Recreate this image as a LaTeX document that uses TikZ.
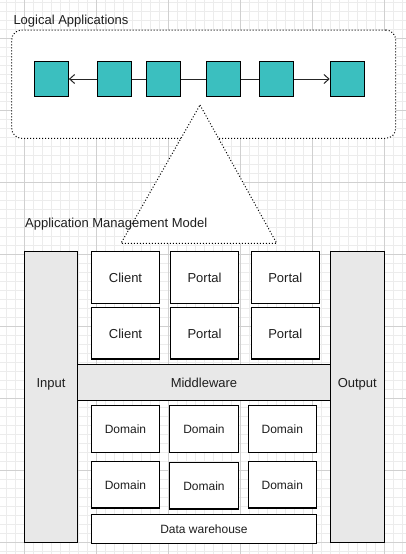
\documentclass[tikz,border=0pt]{standalone}
\usepackage{fontspec}
\setmainfont{Liberation Sans}
\usetikzlibrary{arrows.meta}
\definecolor{tealbox}{RGB}{59,191,191}
\definecolor{gfill}{RGB}{232,232,232}
\definecolor{minorg}{RGB}{236,236,236}
\definecolor{majorg}{RGB}{208,208,208}
\definecolor{txt}{RGB}{30,30,30}
\begin{document}
\begin{tikzpicture}[x=1pt,y=-1pt,
  sq/.style={draw=black, fill=tealbox, line width=1.2pt, minimum width=34pt, minimum height=35pt, inner sep=0pt},
  wbox/.style={draw=black, fill=white, line width=1.2pt, inner sep=0pt, text=txt, text height=9.4pt, text depth=0pt},
  gbox/.style={draw=black, fill=gfill, line width=1.2pt, inner sep=0pt},
  fbig/.style={font=\fontsize{13}{15}\selectfont},
  fsmall/.style={font=\fontsize{12}{14}\selectfont},
  lbl/.style={inner sep=0pt, text=txt, text height=9.4pt, text depth=0pt},
  dotline/.style={line width=1pt, dash pattern=on 1pt off 2pt},
  conn/.style={line width=1pt, draw=black!85}
]
\useasboundingbox (0,0) rectangle (406,554);
\fill[white] (0,0) rectangle (406,554);
% grid
\foreach \x in {6.7,15.7,...,406} \draw[minorg, line width=1pt] (\x,0) -- (\x,554);
\foreach \y in {2.3,11.3,...,554} \draw[minorg, line width=1pt] (0,\y) -- (406,\y);
\foreach \x in {24.7,96.7,...,406} \draw[majorg, line width=1pt] (\x,0) -- (\x,554);
\foreach \y in {38.3,110.3,...,554} \draw[majorg, line width=1pt] (0,\y) -- (406,\y);

% Logical applications container
\node[anchor=base west, inner sep=0pt, text=txt, fbig] (title1) at (13.3,24.3) {Logical Applications};
\node[draw=black, dotline, fill=white, rounded corners=10pt, minimum width=384pt, minimum height=108.3pt, inner sep=0pt] (la) at (203.7,84.15) {};

% triangle
\draw[dotline, fill=white] (200,105) -- (276.7,243.3) -- (121,243.3) -- cycle;

% squares
\node[sq] (s1) at (51.3,79) {};
\node[sq] (s2) at (114.3,79) {};
\node[sq] (s3) at (163.3,79) {};
\node[sq] (s4) at (223.5,79) {};
\node[sq] (s5) at (276.5,79) {};
\node[sq] (s6) at (347.3,79) {};
\draw[conn, -{Straight Barb[length=5pt,width=9pt]}] (s2) -- (s1);
\draw[conn] (s2) -- (s3);
\draw[conn] (s3) -- (s4);
\draw[conn] (s4) -- (s5);
\draw[conn, -{Straight Barb[length=5pt,width=9pt]}] (s5) -- (s6);

\node[anchor=base west, inner sep=0pt, text=txt, fbig] (title2) at (25,227.3) {Application Management Model};

% middleware and side columns
\node[gbox, minimum width=252.6pt, minimum height=36pt] (mw) at (204,382.3) {};
\node[gbox, minimum width=53.4pt, minimum height=290.6pt] (in) at (51,397) {};
\node[gbox, minimum width=54pt, minimum height=290.6pt] (out) at (357.3,397) {};
\node[lbl, fbig] (mwl) at (mw.center) {Middleware};
\node[lbl, fbig] (inl) at (in.center |- mw.center) {Input};
\node[lbl, fbig] (outl) at (out.center |- mw.center) {Output};

% upper boxes
\node[wbox, fbig, minimum width=67.6pt, minimum height=51.6pt] (c1) at (125.5,277.5) {Client};
\node[wbox, fbig, minimum width=68.4pt, minimum height=51.6pt] (p1) at (204.5,277.5) {Portal};
\node[wbox, fbig, minimum width=68pt, minimum height=51.6pt] (p2) at (285.3,277.5) {Portal};
\node[wbox, fbig, minimum width=67.6pt, minimum height=51.3pt] (c2) at (125.5,333.3) {Client};
\node[wbox, fbig, minimum width=68.4pt, minimum height=51.3pt] (p3) at (204.5,333.3) {Portal};
\node[wbox, fbig, minimum width=68pt, minimum height=51.3pt] (p4) at (285.3,333.3) {Portal};

% lower boxes
\node[wbox, fsmall, minimum width=67.6pt, minimum height=47pt] (d1) at (125.5,428.8) {Domain};
\node[wbox, fsmall, minimum width=69.4pt, minimum height=47pt] (d2) at (204,428.8) {Domain};
\node[wbox, fsmall, minimum width=68pt, minimum height=47pt] (d3) at (282.3,428.8) {Domain};
\node[wbox, fsmall, minimum width=67.6pt, minimum height=46.7pt] (d4) at (125.5,484.7) {Domain};
\node[wbox, fsmall, minimum width=69.4pt, minimum height=46.7pt] (d5) at (204,485.7) {Domain};
\node[wbox, fsmall, minimum width=68pt, minimum height=46.7pt] (d6) at (282.3,484.7) {Domain};
\node[wbox, fsmall, minimum width=224.6pt, minimum height=28.6pt] (dw) at (204,529) {Data warehouse};
\end{tikzpicture}
\end{document}
